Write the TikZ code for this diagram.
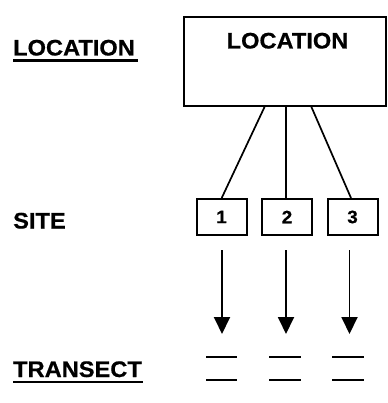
\documentclass[tikz,border=0pt]{standalone}
\usepackage{fontspec}
\setmainfont{Liberation Sans}[FakeStretch=1.05, FakeBold=0.6]
\usetikzlibrary{arrows.meta}
\tikzset{
  lbl/.style={inner sep=0pt, anchor=base west, font=\fontsize{22.5}{24}\selectfont\bfseries},
  ulin/.style={line width=2.6pt},
  bigbox/.style={draw, line width=2pt, minimum width=202pt, minimum height=89pt, inner sep=0pt},
  sitebox/.style={draw, line width=2pt, minimum width=50pt, minimum height=36pt, inner sep=0pt, font=\fontsize{18}{20}\selectfont\bfseries},
  conn/.style={line width=1.7pt},
  arr/.style={line width=1.9pt, -{Triangle[width=16pt,length=17pt]}},
  tr/.style={line width=1.8pt}
}
\begin{document}
\begin{tikzpicture}[x=1pt,y=-1pt]
\useasboundingbox (0,0) rectangle (387,403);
% left labels
\node[lbl] (lloc) at (13,55.5) {LOCATION};
\draw[ulin] (13,60.5) -- (138,60.5);
\node[lbl] (lsite) at (13,228.5) {SITE};
\node[lbl] (ltr) at (13,377) {TRANSECT};
\draw[ulin] (13,382) -- (143,382);
% big box
\node[bigbox] (loc) at (285,61.5) {};
\node[inner sep=0pt, anchor=base, font=\fontsize{22.5}{24}\selectfont\bfseries] (loctxt) at (287.5,48.5) {LOCATION};
% site boxes
\node[sitebox] (s1) at (221.5,217) {1};
\node[sitebox] (s2) at (287,217) {2};
\node[sitebox] (s3) at (352.5,217) {3};
% connectors
\coordinate (b1) at (265,106);
\coordinate (b2) at (286,106);
\coordinate (b3) at (311,106);
\draw[conn] (b1) -- (s1.north -| 221.7,0);
\draw[conn] (b2) -- (s2.north -| 286,0);
\draw[conn] (b3) -- (s3.north -| 351,0);
% arrows
\coordinate (a1s) at (222,250); \coordinate (a1e) at (222,334);
\coordinate (a2s) at (286,250); \coordinate (a2e) at (286,334);
\coordinate (a3s) at (349.5,250); \coordinate (a3e) at (349.5,334);
\draw[arr] (a1s) -- (a1e);
\draw[arr] (a2s) -- (a2e);
\draw[arr] (a3s) -- (a3e);
% transect dashes
\foreach \xa/\xb in {206/237, 269/301, 332/364}{
  \draw[tr] (\xa,357) -- (\xb,357);
  \draw[tr] (\xa,380) -- (\xb,380);
}
\end{tikzpicture}
\end{document}
